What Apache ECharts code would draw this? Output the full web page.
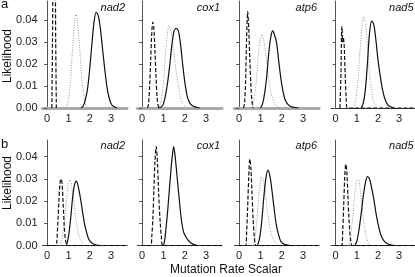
<!DOCTYPE html>
<html>
<head>
<meta charset="utf-8">
<script src="https://cdn.jsdelivr.net/npm/echarts@6/dist/echarts.min.js"></script>
<style>
  html, body { margin: 0; padding: 0; background: #fff; }
  #chart { width: 415px; height: 277px; }
</style>
</head>
<body>
<div id="chart"></div>
<script>
const genes = ['nad2', 'cox1', 'atp6', 'nad5'];
const xTickValues = [0, 1, 2, 3];
const yTickValues = [0, 0.01, 0.02, 0.03, 0.04];

// row a: [x, likelihood]
const aNad2Dash = [[0.22, 0], [0.25, 0.03], [0.3, 0.07], [0.36, 0.07], [0.4, 0.03], [0.43, 0]];
const aNad2Dot = [[0.9, 0], [1.0, 0.004], [1.1, 0.013], [1.2, 0.028], [1.3, 0.04], [1.35, 0.0425], [1.4, 0.041], [1.5, 0.031], [1.6, 0.017], [1.7, 0.007], [1.8, 0.002], [1.9, 0]];
const aNad2Solid = [[1.6, 0], [1.7, 0.001], [1.8, 0.004], [1.9, 0.009], [2.0, 0.018], [2.1, 0.029], [2.2, 0.039], [2.3, 0.0435], [2.4, 0.042], [2.5, 0.036], [2.6, 0.027], [2.7, 0.018], [2.8, 0.01], [2.9, 0.005], [3.0, 0.002], [3.1, 0.0008], [3.3, 0]];

const aCox1Dash = [[0.25, 0], [0.3, 0.002], [0.35, 0.01], [0.4, 0.022], [0.45, 0.034], [0.5, 0.039], [0.55, 0.036], [0.6, 0.026], [0.65, 0.014], [0.7, 0.005], [0.75, 0.001], [0.8, 0]];
const aCox1Dot = [[0.8, 0], [0.9, 0.004], [1.0, 0.012], [1.1, 0.025], [1.2, 0.035], [1.25, 0.0375], [1.3, 0.037], [1.4, 0.032], [1.5, 0.024], [1.6, 0.016], [1.7, 0.01], [1.8, 0.005], [1.9, 0.002], [2.0, 0.001], [2.1, 0]];
const aCox1Solid = [[0.75, 0], [0.9, 0.0005], [1.0, 0.002], [1.1, 0.006], [1.2, 0.012], [1.3, 0.02], [1.4, 0.029], [1.5, 0.035], [1.6, 0.0362], [1.7, 0.035], [1.8, 0.029], [1.9, 0.02], [2.0, 0.012], [2.1, 0.006], [2.2, 0.003], [2.3, 0.0015], [2.5, 0.0004], [2.7, 0]];

const aAtp6Dash = [[0.2, 0], [0.25, 0.002], [0.3, 0.012], [0.35, 0.032], [0.4, 0.0438], [0.45, 0.036], [0.5, 0.022], [0.55, 0.01], [0.6, 0.003], [0.65, 0]];
const aAtp6Dot = [[0.6, 0], [0.7, 0.004], [0.8, 0.012], [0.9, 0.024], [1.0, 0.032], [1.07, 0.0332], [1.15, 0.031], [1.25, 0.024], [1.35, 0.016], [1.45, 0.009], [1.55, 0.005], [1.7, 0.0015], [1.9, 0]];
const aAtp6Solid = [[1.0, 0], [1.1, 0.002], [1.2, 0.007], [1.3, 0.015], [1.4, 0.026], [1.5, 0.033], [1.58, 0.035], [1.65, 0.0335], [1.75, 0.03], [1.85, 0.022], [1.95, 0.014], [2.05, 0.008], [2.15, 0.004], [2.3, 0.0015], [2.5, 0.0004], [2.8, 0]];

const aNad5Dash = [[0.2, 0], [0.25, 0.015], [0.28, 0.035], [0.3, 0.037], [0.33, 0.03], [0.36, 0.032], [0.4, 0.029], [0.45, 0.015], [0.5, 0.004], [0.55, 0], [3.75, 0]];
const aNad5Dot = [[0.85, 0], [0.95, 0.004], [1.05, 0.012], [1.15, 0.026], [1.25, 0.038], [1.32, 0.0415], [1.4, 0.039], [1.5, 0.028], [1.6, 0.016], [1.7, 0.008], [1.8, 0.003], [1.95, 0]];
const aNad5Solid = [[1.2, 0], [1.3, 0.002], [1.4, 0.008], [1.5, 0.02], [1.6, 0.034], [1.7, 0.0395], [1.8, 0.038], [1.9, 0.031], [2.0, 0.022], [2.1, 0.015], [2.2, 0.009], [2.3, 0.005], [2.4, 0.0025], [2.5, 0.001], [2.75, 0]];

// row b
const bNad2Dash = [[-0.05, 0], [0.4, 0], [0.45, 0.002], [0.5, 0.01], [0.55, 0.02], [0.6, 0.028], [0.65, 0.03], [0.7, 0.028], [0.75, 0.019], [0.8, 0.009], [0.85, 0.003], [0.9, 0.001], [0.95, 0], [3.75, 0]];
const bNad2Dot = [[0.6, 0], [0.7, 0.003], [0.8, 0.01], [0.9, 0.02], [1.0, 0.028], [1.08, 0.0295], [1.15, 0.027], [1.25, 0.02], [1.35, 0.012], [1.45, 0.006], [1.55, 0.003], [1.7, 0.0008], [1.8, 0]];
const bNad2Solid = [[0.9, 0], [1.0, 0.004], [1.1, 0.012], [1.2, 0.022], [1.3, 0.028], [1.37, 0.029], [1.45, 0.027], [1.55, 0.022], [1.65, 0.016], [1.75, 0.01], [1.85, 0.006], [1.95, 0.003], [2.1, 0.0012], [2.3, 0.0003], [2.5, 0]];

const bCox1Dash = [[-0.05, 0], [0.4, 0], [0.45, 0.004], [0.5, 0.012], [0.55, 0.025], [0.6, 0.038], [0.66, 0.0445], [0.72, 0.037], [0.78, 0.022], [0.85, 0.01], [0.9, 0.004], [0.98, 0], [3.75, 0]];
const bCox1Dot = [];
const bCox1Solid = [[1.0, 0], [1.05, 0.002], [1.1, 0.006], [1.2, 0.016], [1.3, 0.028], [1.4, 0.039], [1.48, 0.0445], [1.55, 0.04], [1.65, 0.03], [1.75, 0.02], [1.85, 0.011], [1.95, 0.006], [2.05, 0.004], [2.2, 0.002], [2.4, 0.0006], [2.6, 0]];

const bAtp6Dash = [[-0.05, 0], [0.3, 0], [0.35, 0.006], [0.4, 0.018], [0.45, 0.031], [0.5, 0.039], [0.55, 0.035], [0.6, 0.024], [0.65, 0.013], [0.7, 0.005], [0.75, 0.001], [0.8, 0], [3.75, 0]];
const bAtp6Dot = [[0.65, 0], [0.75, 0.004], [0.85, 0.014], [0.95, 0.025], [1.05, 0.031], [1.15, 0.029], [1.25, 0.022], [1.35, 0.014], [1.45, 0.008], [1.55, 0.004], [1.7, 0.0012], [1.9, 0]];
const bAtp6Solid = [[0.85, 0], [0.95, 0.003], [1.05, 0.01], [1.15, 0.021], [1.25, 0.03], [1.35, 0.034], [1.45, 0.031], [1.55, 0.024], [1.65, 0.016], [1.75, 0.009], [1.85, 0.005], [1.95, 0.002], [2.1, 0.0007], [2.4, 0]];

const bNad5Dash = [[-0.05, 0], [0.28, 0], [0.33, 0.006], [0.38, 0.018], [0.43, 0.031], [0.48, 0.0366], [0.53, 0.033], [0.58, 0.022], [0.63, 0.012], [0.68, 0.005], [0.73, 0.0012], [0.78, 0], [3.75, 0]];
const bNad5Dot = [[0.6, 0], [0.7, 0.004], [0.8, 0.012], [0.9, 0.023], [1.0, 0.0295], [1.07, 0.03], [1.15, 0.026], [1.25, 0.017], [1.35, 0.009], [1.45, 0.004], [1.55, 0.0012], [1.65, 0]];
const bNad5Solid = [[0.9, 0], [1.0, 0.002], [1.1, 0.007], [1.2, 0.014], [1.3, 0.022], [1.4, 0.028], [1.5, 0.031], [1.6, 0.03], [1.7, 0.026], [1.8, 0.021], [1.9, 0.015], [2.0, 0.01], [2.1, 0.006], [2.2, 0.0035], [2.35, 0.0015], [2.55, 0.0005], [2.8, 0]];

const panels = [
  [aNad2Dash, aNad2Dot, aNad2Solid], [aCox1Dash, aCox1Dot, aCox1Solid],
  [aAtp6Dash, aAtp6Dot, aAtp6Solid], [aNad5Dash, aNad5Dot, aNad5Solid],
  [bNad2Dash, bNad2Dot, bNad2Solid], [bCox1Dash, bCox1Dot, bCox1Solid],
  [bAtp6Dash, bAtp6Dot, bAtp6Solid], [bNad5Dash, bNad5Dot, bNad5Solid]
];

const lefts = [42.5, 137.5, 234.5, 331];
const panelW = 84.5;
const rowTop = [1, 140];
const rowH = [107, 105.7];
const rowMax = [0.0486, 0.0475];
const font = 'Liberation Sans, Arial, sans-serif';

const grid = [], xAxis = [], yAxis = [], series = [], graphic = [];
panels.forEach((curves, i) => {
  const row = Math.floor(i / 4), col = i % 4;
  const grayBase = row === 0 && col < 3;
  grid.push({ left: lefts[col], top: rowTop[row], width: panelW, height: rowH[row] });
  xAxis.push({
    type: 'value', gridIndex: i, min: -0.22, max: 3.75,
    splitLine: { show: false },
    axisLine: { lineStyle: { color: grayBase ? '#aaa' : '#333', width: grayBase ? 3 : 1 } },
    axisTick: { show: false },
    axisLabel: { customValues: xTickValues, color: '#222', fontSize: 11, fontFamily: font, margin: 5 }
  });
  yAxis.push({
    type: 'value', gridIndex: i, min: 0, max: rowMax[row],
    splitLine: { show: false },
    axisLine: { show: true, lineStyle: { color: '#555', width: 1 } },
    axisTick: { show: true, customValues: yTickValues, length: 3, lineStyle: { color: '#555' } },
    axisLabel: {
      show: col === 0, customValues: yTickValues, color: '#222', fontSize: 11, fontFamily: font, margin: 5,
      formatter: v => v.toFixed(2)
    }
  });
  const styles = [
    { color: '#111', width: 1.2, type: [4, 2] },
    { color: '#999', width: 1, type: [1, 1.5] },
    { color: '#111', width: 1.2, type: 'solid' }
  ];
  curves.forEach((data, k) => {
    if (!data.length) return;
    series.push({
      type: 'line', xAxisIndex: i, yAxisIndex: i, data: data,
      showSymbol: false, smooth: 0.3, clip: true,
      lineStyle: styles[k], z: k === 1 ? 2 : 3
    });
  });
  graphic.push({
    type: 'text', right: 415 - (lefts[col] + panelW) + 2, top: rowTop[row] + (row === 0 ? 1 : 0),
    style: { text: genes[col], font: 'italic 11px ' + font, fill: '#111' }
  });
});

graphic.push(
  { type: 'text', left: 1, top: -2, style: { text: 'a', font: '13px ' + font, fill: '#111' } },
  { type: 'text', left: 1, top: 138, style: { text: 'b', font: '13px ' + font, fill: '#111' } },
  { type: 'text', x: 8, y: 56, rotation: Math.PI / 2,
    style: { text: 'Likelihood', font: '12px ' + font, fill: '#111', align: 'center', verticalAlign: 'middle' } },
  { type: 'text', x: 8, y: 183, rotation: Math.PI / 2,
    style: { text: 'Likelihood', font: '12px ' + font, fill: '#111', align: 'center', verticalAlign: 'middle' } },
  { type: 'text', x: 226, y: 270,
    style: { text: 'Mutation Rate Scalar', font: '12px ' + font, fill: '#111', align: 'center', verticalAlign: 'middle' } }
);

const chart = echarts.init(document.getElementById('chart'), null, { renderer: 'canvas' });
chart.setOption({
  animation: false,
  backgroundColor: '#fff',
  grid: grid, xAxis: xAxis, yAxis: yAxis, series: series, graphic: graphic
});
</script>
</body>
</html>
